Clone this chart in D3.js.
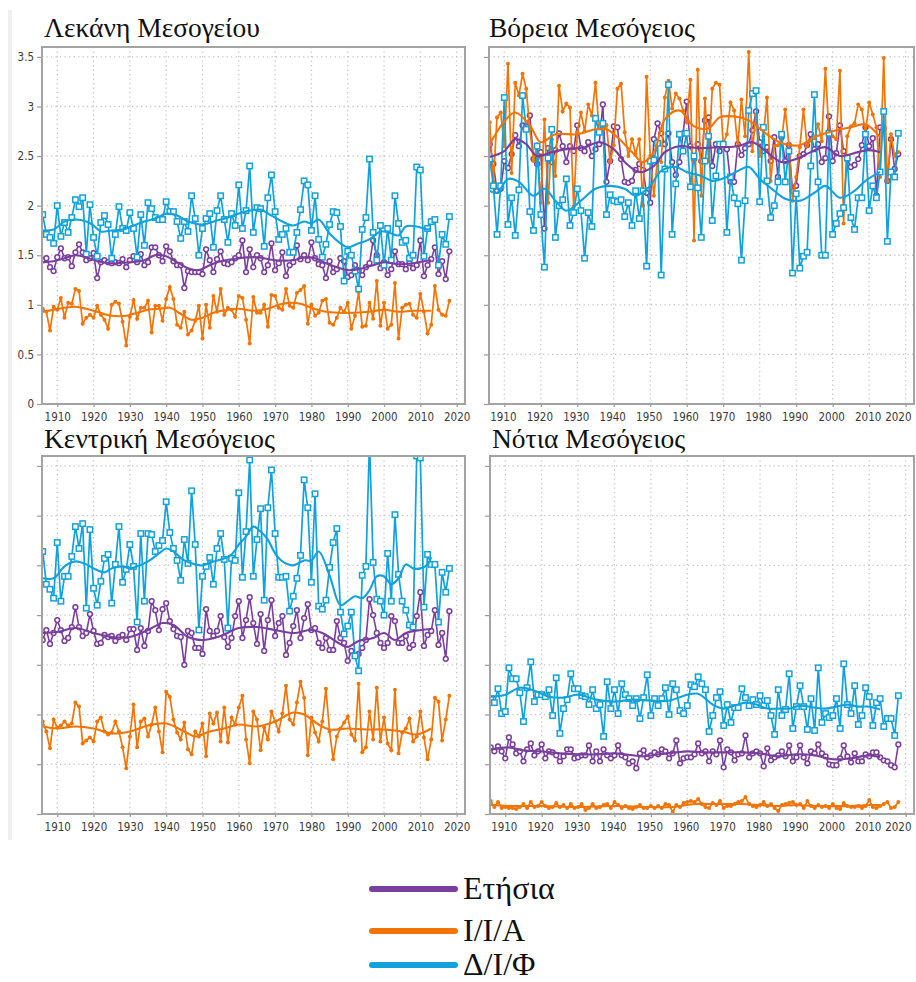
<!DOCTYPE html>
<html><head><meta charset="utf-8">
<script src="https://cdn.jsdelivr.net/npm/d3@7"></script>
<style>body{margin:0;background:#fff} svg{display:block}</style>
</head><body>
<svg id="chart" width="916" height="982"></svg>
<script>
const years = [1906,1907,1908,1909,1910,1911,1912,1913,1914,1915,
1916,1917,1918,1919,1920,1921,1922,1923,1924,1925,
1926,1927,1928,1929,1930,1931,1932,1933,1934,1935,
1936,1937,1938,1939,1940,1941,1942,1943,1944,1945,
1946,1947,1948,1949,1950,1951,1952,1953,1954,1955,
1956,1957,1958,1959,1960,1961,1962,1963,1964,1965,
1966,1967,1968,1969,1970,1971,1972,1973,1974,1975,
1976,1977,1978,1979,1980,1981,1982,1983,1984,1985,
1986,1987,1988,1989,1990,1991,1992,1993,1994,1995,
1996,1997,1998,1999,2000,2001,2002,2003,2004,2005,
2006,2007,2008,2009,2010,2011,2012,2013,2014,2015,
2016,2017,2018];
const seriesNames = ["Ετήσια","Ι/Ι/Α","Δ/Ι/Φ"];
const panelTitles = ["Λεκάνη Μεσογείου","Βόρεια Μεσόγειος","Κεντρική Μεσόγειος","Νότια Μεσόγειος"];
const yTicks = [0,0.5,1,1.5,2,2.5,3,3.5];
const yTickLabels = ["0","0.5","1","1.5","2","2.5","3","3.5"];
const xTicks = [1910,1920,1930,1940,1950,1960,1970,1980,1990,2000,2010,2020];

// ---- Panel 1: Λεκάνη Μεσογείου ----
const basinAnnual = [1.45,1.47,1.38,1.34,1.48,1.57,1.47,1.48,1.39,1.53,
1.61,1.53,1.45,1.47,1.52,1.27,1.43,1.45,1.43,1.42,
1.43,1.42,1.46,1.38,1.45,1.49,1.43,1.51,1.40,1.43,
1.58,1.58,1.50,1.44,1.59,1.54,1.44,1.40,1.40,1.17,
1.34,1.33,1.33,1.33,1.31,1.56,1.45,1.33,1.46,1.54,
1.42,1.41,1.43,1.47,1.50,1.65,1.33,1.56,1.38,1.50,
1.47,1.33,1.40,1.62,1.35,1.42,1.53,1.29,1.40,1.43,
1.60,1.46,1.50,1.45,1.63,1.47,1.41,1.40,1.27,1.44,
1.33,1.36,1.47,1.44,1.28,1.30,1.40,1.35,1.30,1.38,
1.42,1.65,1.50,1.37,1.43,1.30,1.36,1.54,1.41,1.41,
1.36,1.42,1.37,1.40,1.65,1.29,1.40,1.46,1.58,1.31,
1.44,1.26,1.54];
const basinIIA = [0.96,0.93,0.74,0.98,0.95,1.07,0.87,1.02,1.01,1.16,
1.14,0.81,0.87,0.90,0.87,0.99,0.90,0.85,0.76,1.00,
1.03,1.01,0.83,0.59,0.88,1.05,0.86,0.97,0.97,1.04,
0.72,0.99,0.99,0.84,1.06,1.18,1.06,0.80,0.77,0.93,
0.70,0.74,0.84,0.99,0.66,1.00,0.77,1.09,0.93,1.16,
0.90,0.97,0.95,0.88,1.09,1.07,0.85,0.61,1.08,0.92,
0.92,1.00,0.78,1.10,1.09,0.97,0.95,1.16,0.99,0.97,
1.12,1.15,1.19,0.81,1.00,0.89,0.92,1.04,1.06,0.82,
0.80,0.87,0.97,0.93,1.02,0.76,0.89,1.13,0.78,0.79,
1.02,0.86,1.24,0.79,1.02,0.76,0.80,1.22,0.66,0.97,
1.00,1.01,0.90,0.87,1.11,0.93,0.71,0.80,1.19,0.95,
0.90,0.89,1.04];
const basinDIF = [1.91,1.71,1.68,1.62,2.00,1.69,1.83,1.73,1.88,2.06,
1.99,2.08,1.51,2.01,1.68,1.49,1.83,1.90,1.81,1.47,
1.71,1.99,1.77,1.75,1.93,1.77,1.48,1.91,1.60,2.03,
1.97,1.88,1.86,1.86,2.04,1.94,1.94,1.84,1.67,1.84,
1.74,2.10,1.87,1.50,1.77,1.87,1.92,1.58,1.95,2.10,
1.86,1.63,1.92,1.80,2.21,1.77,1.95,2.40,1.73,1.98,
1.97,1.59,2.08,2.31,1.94,1.66,1.71,1.77,1.53,1.53,
1.73,1.96,2.25,2.21,1.75,2.10,1.66,1.48,1.61,1.81,
1.94,1.93,1.79,1.24,1.54,1.50,1.34,1.16,1.76,1.88,
2.47,1.73,1.45,1.80,1.40,1.77,1.45,2.10,1.82,1.63,
1.65,1.47,1.50,2.39,2.36,1.49,1.77,1.84,1.86,1.40,
1.71,1.61,1.89];
const basinAnnualSmooth = [[1906,1.43],[1909,1.44],[1912,1.47],[1915,1.50],[1918,1.48],[1921,1.44],[1925,1.42],[1930,1.43],[1934,1.45],[1937,1.50],[1940,1.49],[1943,1.43],[1946,1.37],[1949,1.35],[1952,1.40],[1955,1.44],[1960,1.47],[1965,1.48],[1970,1.45],[1975,1.45],[1978,1.48],[1981,1.47],[1984,1.42],[1987,1.38],[1990,1.35],[1993,1.36],[1997,1.40],[2000,1.43],[2004,1.41],[2008,1.42],[2011,1.44],[2013,1.45]];
const basinIIASmooth = [[1906,0.93],[1909,0.95],[1912,0.97],[1915,0.98],[1918,0.96],[1921,0.93],[1925,0.89],[1929,0.89],[1932,0.92],[1935,0.95],[1938,0.96],[1941,0.97],[1944,0.91],[1947,0.85],[1950,0.87],[1953,0.92],[1957,0.95],[1960,0.96],[1964,0.94],[1968,0.96],[1971,1.00],[1974,1.02],[1977,1.01],[1980,0.97],[1984,0.93],[1988,0.92],[1992,0.92],[1996,0.93],[2000,0.95],[2004,0.93],[2008,0.94],[2011,0.94],[2013,0.94]];
const basinDIFSmooth = [[1906,1.75],[1909,1.76],[1912,1.84],[1915,1.86],[1918,1.84],[1920,1.80],[1922,1.74],[1925,1.75],[1928,1.76],[1931,1.80],[1934,1.84],[1937,1.87],[1940,1.92],[1943,1.90],[1946,1.84],[1950,1.81],[1954,1.85],[1957,1.88],[1960,1.92],[1963,1.95],[1966,1.96],[1969,1.90],[1972,1.84],[1975,1.80],[1978,1.84],[1980,1.82],[1982,1.86],[1985,1.72],[1988,1.62],[1990,1.58],[1993,1.62],[1996,1.66],[1999,1.74],[2002,1.72],[2004,1.70],[2006,1.79],[2009,1.79],[2012,1.76],[2013,1.77]];

// ---- Panel 2: Βόρεια Μεσόγειος ----
const northAnnual = [2.62,2.42,2.15,2.17,2.45,2.38,2.52,2.71,2.60,2.81,
2.80,2.91,2.47,2.42,2.54,1.77,2.58,2.44,2.56,2.73,
2.60,2.44,2.60,2.55,2.81,2.58,2.55,2.64,2.50,2.57,
2.62,3.02,2.24,2.45,2.80,2.79,2.47,2.24,2.23,2.25,
2.36,2.42,2.36,2.13,2.03,2.67,2.83,2.73,2.62,2.73,
2.44,2.31,2.44,2.73,3.05,2.60,2.47,2.62,2.45,2.86,
2.89,2.40,2.62,2.55,2.62,2.57,2.24,2.24,2.62,2.51,
2.58,2.62,2.76,2.95,2.64,2.55,2.59,2.45,2.69,2.29,
2.69,2.45,2.61,2.15,2.20,2.50,2.52,2.61,2.72,2.57,
2.62,2.44,2.48,2.90,2.45,2.53,2.81,2.55,2.47,2.39,
2.41,2.47,2.61,2.79,2.60,2.68,2.10,2.79,2.78,2.25,
2.67,2.37,2.52];
const northIIA = [2.84,2.24,2.89,2.94,2.60,3.43,2.33,3.24,3.11,3.33,
3.18,2.77,2.45,2.62,2.03,2.87,2.03,2.67,2.30,3.21,
2.95,3.03,2.99,1.99,2.74,2.94,2.75,3.02,2.91,3.24,
2.76,2.76,2.81,2.44,2.61,3.18,3.23,2.74,2.50,2.67,
2.52,2.67,2.00,3.30,2.50,2.10,2.47,2.44,3.09,3.26,
2.98,3.13,3.08,2.96,2.84,3.27,1.65,3.37,2.10,3.08,
2.45,3.18,3.24,3.22,2.62,2.72,3.04,2.96,2.60,3.07,
2.70,3.55,2.55,2.92,2.50,2.70,3.09,2.25,2.60,2.61,
2.66,2.97,2.62,2.05,2.29,2.59,2.97,2.60,2.66,2.68,
2.82,2.65,3.38,2.73,2.70,2.67,3.36,1.82,2.70,2.80,
2.83,3.02,2.97,2.73,3.04,2.92,2.79,2.29,3.49,2.24,
2.72,2.50,2.54];
const northDIF = [2.47,2.20,1.71,2.20,3.09,1.81,2.08,1.70,2.16,3.11,
2.77,1.94,1.75,2.60,1.91,1.38,2.48,2.77,1.68,2.00,
2.06,2.27,1.80,1.93,2.17,1.95,1.47,1.93,1.79,2.88,
2.74,2.83,1.91,2.11,2.05,2.04,2.06,1.89,2.03,1.80,
2.15,1.87,2.15,1.39,2.45,2.46,2.63,1.30,2.37,3.22,
1.71,2.22,2.72,2.55,2.73,2.19,2.50,2.18,1.68,2.45,
2.70,1.85,2.30,2.62,2.62,1.73,2.29,2.08,2.02,1.45,
2.05,2.96,3.13,3.16,2.04,2.79,2.25,1.88,2.00,2.24,
2.72,2.24,2.55,1.32,2.12,1.37,1.49,1.53,2.40,3.12,
2.24,1.50,1.50,2.73,1.71,1.82,1.92,1.98,2.48,1.88,
1.76,2.08,2.08,2.72,1.95,2.20,2.08,2.34,2.95,1.64,
2.34,2.29,2.73];
const northAnnualSmooth = [[1906,2.49],[1910,2.55],[1913,2.67],[1916,2.62],[1919,2.50],[1923,2.54],[1927,2.57],[1932,2.59],[1936,2.64],[1940,2.57],[1943,2.44],[1947,2.34],[1951,2.40],[1954,2.54],[1958,2.60],[1963,2.58],[1969,2.59],[1974,2.60],[1978,2.64],[1982,2.54],[1986,2.44],[1990,2.47],[1994,2.54],[1998,2.59],[2002,2.50],[2007,2.54],[2010,2.56],[2013,2.54]];
const northIIASmooth = [[1906,2.62],[1910,2.85],[1913,2.94],[1917,2.81],[1920,2.64],[1924,2.72],[1930,2.72],[1935,2.77],[1938,2.77],[1941,2.69],[1945,2.54],[1948,2.44],[1951,2.54],[1954,2.87],[1958,2.96],[1962,2.80],[1966,2.78],[1969,2.89],[1973,2.90],[1977,2.86],[1982,2.72],[1986,2.63],[1991,2.61],[1995,2.69],[2000,2.75],[2005,2.79],[2009,2.82],[2013,2.69]];
const northDIFSmooth = [[1906,2.15],[1908,2.13],[1911,2.27],[1914,2.24],[1918,2.10],[1921,2.17],[1924,2.05],[1927,1.95],[1931,2.05],[1935,2.17],[1939,2.20],[1943,2.17],[1946,2.10],[1950,2.20],[1953,2.35],[1957,2.39],[1960,2.34],[1964,2.30],[1967,2.25],[1971,2.29],[1974,2.35],[1977,2.39],[1980,2.27],[1984,2.15],[1987,2.07],[1991,2.05],[1995,2.13],[1998,2.20],[2002,2.08],[2006,2.15],[2009,2.25],[2013,2.34]];

// ---- Panel 3: Κεντρική Μεσόγειος ----
const centralAnnual = [1.75,1.85,1.71,1.82,1.95,1.85,1.74,1.77,1.88,2.08,
1.88,1.79,1.82,2.01,1.84,1.71,1.72,1.80,1.78,1.79,
1.74,1.78,1.80,1.75,1.86,1.86,1.65,1.87,1.69,1.84,
2.14,2.05,1.85,2.06,2.12,1.94,1.86,1.79,1.78,1.50,
1.84,1.82,1.67,1.67,1.61,2.06,1.84,1.79,1.84,1.99,
1.78,1.68,1.77,1.99,2.14,1.77,1.95,2.18,1.92,1.71,
2.01,1.64,1.95,2.15,1.79,1.92,1.99,1.60,1.72,1.89,
2.05,1.77,1.97,2.11,1.85,1.87,1.72,1.67,1.77,1.65,
1.65,1.94,1.77,1.72,1.54,1.64,1.59,1.61,1.67,1.75,
2.16,2.00,1.82,1.72,1.67,1.72,1.99,1.94,1.72,1.72,
1.79,1.67,1.70,1.99,2.23,1.69,1.80,1.84,2.05,1.70,
1.82,1.56,2.04];
const centralIIA = [0.93,0.83,0.66,0.95,0.87,0.89,0.93,0.89,0.91,1.12,
1.08,0.71,0.74,0.77,0.73,0.93,0.97,0.83,0.80,0.82,
0.93,0.83,0.67,0.46,0.78,1.10,0.67,0.93,0.96,0.78,
0.90,1.07,0.83,0.62,1.23,1.18,0.95,0.82,0.75,0.92,
0.65,0.60,0.83,0.78,0.91,0.58,1.01,0.91,1.02,0.73,
1.07,0.72,0.97,0.90,1.07,1.19,0.75,0.51,1.03,0.95,
0.64,0.87,0.75,1.03,0.93,0.83,1.01,1.29,0.95,0.90,
1.12,1.33,1.17,0.59,0.97,0.82,0.73,0.93,1.26,0.83,
0.55,0.78,0.86,0.92,0.98,0.80,0.74,1.31,0.62,0.67,
1.03,0.75,1.27,0.73,0.97,0.71,0.64,1.25,0.61,0.82,
0.86,0.96,0.73,0.78,1.03,0.77,0.55,0.75,1.17,1.13,
0.74,0.95,1.19];
const centralDIF = [2.64,2.31,2.26,2.17,2.73,2.14,2.39,2.39,2.59,2.89,
2.67,2.92,2.07,2.86,2.27,2.10,2.34,2.57,2.61,2.12,
2.51,2.89,2.33,2.46,2.71,2.49,1.93,2.82,2.14,2.82,
2.81,2.64,2.70,2.75,3.14,2.83,2.67,2.55,2.35,2.76,
2.52,3.25,2.71,1.85,2.39,2.49,2.58,2.31,2.67,2.82,
2.56,1.87,2.57,2.55,3.23,2.38,2.84,3.56,2.39,2.76,
3.07,2.15,3.08,3.46,2.82,2.38,2.38,2.39,2.04,2.19,
2.37,2.60,3.36,3.08,2.33,3.22,2.09,2.06,2.15,2.48,
2.73,2.87,2.03,1.81,1.89,2.03,1.59,1.44,2.40,2.49,
3.75,2.53,2.16,2.14,2.00,2.62,2.14,3.01,2.41,2.14,
2.05,1.90,1.88,3.60,3.58,2.08,2.61,2.51,2.51,1.93,
2.43,2.23,2.47];
const centralAnnualSmooth = [[1906,1.82],[1910,1.83],[1915,1.87],[1920,1.82],[1925,1.78],[1930,1.78],[1935,1.85],[1939,1.92],[1942,1.90],[1946,1.78],[1950,1.75],[1955,1.79],[1960,1.87],[1965,1.88],[1970,1.85],[1975,1.82],[1980,1.85],[1983,1.82],[1987,1.73],[1990,1.68],[1993,1.74],[1997,1.77],[2000,1.82],[2003,1.75],[2006,1.82],[2010,1.85],[2013,1.86]];
const centralIIASmooth = [[1906,0.88],[1910,0.86],[1915,0.88],[1920,0.86],[1925,0.81],[1930,0.83],[1935,0.89],[1940,0.91],[1945,0.83],[1948,0.78],[1952,0.83],[1956,0.86],[1960,0.90],[1965,0.88],[1970,0.93],[1975,1.02],[1978,1.00],[1982,0.90],[1985,0.85],[1990,0.86],[1995,0.85],[2000,0.85],[2005,0.83],[2009,0.80],[2013,0.86]];
const centralDIFSmooth = [[1906,2.37],[1909,2.37],[1912,2.49],[1915,2.54],[1918,2.51],[1920,2.47],[1923,2.43],[1925,2.47],[1928,2.49],[1930,2.47],[1932,2.49],[1935,2.54],[1938,2.62],[1940,2.67],[1942,2.64],[1945,2.55],[1948,2.51],[1950,2.50],[1953,2.54],[1956,2.57],[1958,2.61],[1960,2.71],[1962,2.79],[1964,2.89],[1966,2.84],[1968,2.76],[1970,2.62],[1972,2.54],[1975,2.50],[1978,2.55],[1980,2.55],[1982,2.64],[1985,2.40],[1988,2.10],[1990,2.14],[1992,2.19],[1994,2.17],[1996,2.25],[1998,2.39],[2000,2.39],[2002,2.31],[2004,2.37],[2006,2.51],[2008,2.47],[2010,2.47],[2012,2.51],[2013,2.58]];

// ---- Panel 4: Νότια Μεσόγειος ----
const southAnnual = [0.67,0.63,0.68,0.63,0.56,0.77,0.70,0.61,0.63,0.53,
0.65,0.71,0.59,0.63,0.70,0.56,0.63,0.62,0.59,0.53,
0.58,0.65,0.65,0.56,0.57,0.59,0.59,0.69,0.53,0.63,
0.53,0.65,0.59,0.56,0.59,0.69,0.59,0.57,0.51,0.53,
0.46,0.61,0.64,0.57,0.59,0.62,0.60,0.65,0.63,0.56,
0.61,0.74,0.51,0.56,0.57,0.57,0.60,0.71,0.61,0.63,
0.53,0.63,0.60,0.74,0.47,0.65,0.62,0.54,0.60,0.61,
0.79,0.57,0.61,0.63,0.61,0.48,0.66,0.54,0.57,0.59,
0.63,0.58,0.69,0.53,0.57,0.69,0.57,0.51,0.63,0.61,
0.70,0.61,0.58,0.50,0.49,0.49,0.56,0.69,0.58,0.52,
0.61,0.53,0.53,0.60,0.58,0.62,0.62,0.57,0.54,0.53,
0.49,0.47,0.70];
const southIIA = [0.13,0.07,0.12,0.06,0.07,0.06,0.06,0.05,0.07,0.10,
0.06,0.12,0.07,0.08,0.12,0.08,0.06,0.07,0.11,0.07,
0.09,0.06,0.10,0.06,0.07,0.10,0.04,0.06,0.10,0.06,
0.07,0.09,0.10,0.06,0.12,0.09,0.06,0.08,0.06,0.05,
0.07,0.09,0.06,0.06,0.08,0.06,0.08,0.06,0.10,0.09,
0.02,0.09,0.07,0.11,0.12,0.13,0.12,0.15,0.10,0.07,
0.06,0.11,0.09,0.13,0.06,0.08,0.08,0.10,0.12,0.13,
0.17,0.10,0.08,0.07,0.09,0.12,0.08,0.10,0.06,0.03,
0.09,0.10,0.11,0.12,0.09,0.10,0.06,0.13,0.08,0.06,
0.09,0.07,0.08,0.06,0.10,0.06,0.05,0.11,0.08,0.07,
0.07,0.08,0.06,0.08,0.14,0.07,0.06,0.08,0.10,0.12,
0.06,0.07,0.12];
const southDIF = [1.16,1.12,1.26,1.01,1.03,1.47,1.36,1.36,1.22,0.93,
1.27,1.53,1.13,1.20,1.20,1.18,1.25,0.99,1.37,0.81,
1.06,1.15,1.41,1.26,1.26,1.19,1.18,1.10,1.25,1.06,
1.10,0.78,1.33,1.06,1.25,1.01,1.31,1.20,1.16,1.09,
1.16,0.96,1.17,1.40,0.99,1.16,1.09,1.16,1.27,1.00,
1.31,1.25,1.04,1.01,1.09,1.30,1.28,1.38,1.31,1.25,
0.83,0.99,1.17,1.23,0.89,1.10,0.92,1.07,1.07,1.26,
1.17,1.09,1.15,1.10,1.19,1.09,1.14,0.99,0.80,1.25,
0.99,1.05,1.41,0.86,1.08,1.29,1.08,0.85,1.16,0.84,
1.47,0.92,1.01,0.97,0.99,1.16,0.86,1.51,1.10,1.01,
1.29,0.90,0.99,1.27,1.18,0.89,1.12,1.16,0.88,0.96,
0.96,0.79,1.19];
const southAnnualSmooth = [[1906,0.65],[1911,0.67],[1915,0.64],[1920,0.63],[1925,0.61],[1930,0.60],[1935,0.60],[1940,0.61],[1945,0.59],[1948,0.58],[1952,0.60],[1957,0.62],[1960,0.63],[1965,0.62],[1970,0.62],[1975,0.62],[1980,0.61],[1985,0.58],[1990,0.60],[1995,0.59],[2000,0.55],[2005,0.56],[2010,0.59],[2013,0.57]];
const southIIASmooth = [[1906,0.09],[1912,0.08],[1920,0.08],[1930,0.07],[1940,0.08],[1950,0.07],[1956,0.07],[1962,0.10],[1968,0.10],[1975,0.10],[1980,0.09],[1985,0.08],[1990,0.09],[1995,0.08],[2000,0.08],[2005,0.08],[2010,0.09],[2013,0.09]];
const southDIFSmooth = [[1906,1.18],[1910,1.20],[1914,1.27],[1918,1.24],[1922,1.18],[1926,1.17],[1930,1.20],[1935,1.15],[1940,1.13],[1945,1.15],[1950,1.14],[1955,1.14],[1960,1.20],[1963,1.21],[1965,1.16],[1967,1.10],[1970,1.06],[1973,1.09],[1976,1.12],[1979,1.10],[1982,1.06],[1985,1.06],[1988,1.06],[1991,1.09],[1995,1.07],[1998,1.06],[2001,1.08],[2004,1.10],[2007,1.08],[2010,1.08],[2013,1.05]];

// ---- drawing ----
const COL = {annual:"#7A3E9D", iia:"#F27405", dif:"#12A2DB"};
const panels = [
  {title:panelTitles[0], annual:basinAnnual, iia:basinIIA, dif:basinDIF, sA:basinAnnualSmooth, sI:basinIIASmooth, sD:basinDIFSmooth},
  {title:panelTitles[1], annual:northAnnual, iia:northIIA, dif:northDIF, sA:northAnnualSmooth, sI:northIIASmooth, sD:northDIFSmooth},
  {title:panelTitles[2], annual:centralAnnual, iia:centralIIA, dif:centralDIF, sA:centralAnnualSmooth, sI:centralIIASmooth, sD:centralDIFSmooth},
  {title:panelTitles[3], annual:southAnnual, iia:southIIA, dif:southDIF, sA:southAnnualSmooth, sI:southIIASmooth, sD:southDIFSmooth}
];
const boxes = [
  {left:42, top:47, w:423, h:357, ty:37, tx:44, labels:true},
  {left:489, top:47, w:425, h:357, ty:37, tx:489},
  {left:42, top:456, w:423, h:358, ty:448, tx:44},
  {left:490, top:456, w:424, h:358, ty:448, tx:492}
];
const svg = d3.select("#chart");
svg.append("rect").attr("x",8).attr("y",10).attr("width",4).attr("height",830).attr("fill","#efefef");

const tickFont = "'DejaVu Sans Condensed','DejaVu Sans',sans-serif";

panels.forEach((p, i) => {
  const b = boxes[i];
  const x = d3.scaleLinear().domain([1905.8, 2022.3]).range([b.left, b.left + b.w]);
  const y = d3.scaleLinear().domain([0, 3.6]).range([b.top + b.h, b.top]);
  const g = svg.append("g");

  // grid
  g.selectAll(".hg").data(yTicks.filter(t => t > 0)).join("line")
    .attr("x1", b.left).attr("x2", b.left + b.w)
    .attr("y1", d => y(d)).attr("y2", d => y(d))
    .attr("stroke", "#c4c4c4").attr("stroke-width", 1.3).attr("stroke-dasharray", "1.3,3.2");
  g.selectAll(".vg").data(xTicks).join("line")
    .attr("x1", d => x(d)).attr("x2", d => x(d))
    .attr("y1", b.top).attr("y2", b.top + b.h)
    .attr("stroke", "#c4c4c4").attr("stroke-width", 1.3).attr("stroke-dasharray", "1.3,3.2");

  // axes
  const yAxis = d3.axisLeft(y).tickValues(yTicks).tickSize(5)
    .tickFormat((d, k) => b.labels ? yTickLabels[k] : "");
  const ya = g.append("g").attr("transform", `translate(${b.left},0)`).call(yAxis);
  const xAxis = d3.axisBottom(x).tickValues(xTicks).tickSize(3).tickFormat(d3.format("d"));
  const xa = g.append("g").attr("transform", `translate(0,${b.top + b.h})`).call(xAxis);
  [ya, xa].forEach(a => {
    a.select(".domain").remove();
    a.selectAll(".tick line").attr("stroke", "#9a9a9a").attr("stroke-width", 1.2);
    a.selectAll(".tick text").attr("fill", "#3a3a3a").style("font-family", tickFont).style("font-size", "11.5px");
  });
  const rightPanel = (i % 2 === 1);
  xa.selectAll(".tick text").attr("dy", "0.95em")
    .attr("dx", d => rightPanel && d !== 2020 ? -1.5 : 0)
    .attr("text-anchor", d => rightPanel && d === 2020 ? "end" : "middle")
    .attr("x", d => rightPanel && d === 2020 ? 911 - x(d) : 0);
  ya.selectAll(".tick text").attr("x", -8);

  // clip
  const cid = "clip" + i;
  svg.append("defs").append("clipPath").attr("id", cid).append("rect")
    .attr("x", b.left).attr("y", b.top).attr("width", b.w).attr("height", b.h);
  const plot = g.append("g").attr("clip-path", `url(#${cid})`);

  const line = d3.line().x(d => x(d[0])).y(d => y(d[1]));
  const smooth = d3.line().x(d => x(d[0])).y(d => y(d[1])).curve(d3.curveCatmullRom.alpha(0.5));
  const zip = arr => years.map((yr, k) => [yr, arr[k]]);

  const A = zip(p.annual), I = zip(p.iia), D = zip(p.dif);
  // annual (purple circles)
  plot.append("path").datum(A).attr("d", line).attr("fill", "none").attr("stroke", COL.annual).attr("stroke-width", 1.6);
  plot.selectAll(".ma").data(A).join("circle").attr("cx", d => x(d[0])).attr("cy", d => y(d[1])).attr("r", 2.4)
    .attr("fill", "#fff").attr("stroke", COL.annual).attr("stroke-width", 1.5);
  // IIA (orange dots)
  plot.append("path").datum(I).attr("d", line).attr("fill", "none").attr("stroke", COL.iia).attr("stroke-width", 1.7);
  plot.selectAll(".mi").data(I).join("circle").attr("cx", d => x(d[0])).attr("cy", d => y(d[1])).attr("r", 2)
    .attr("fill", COL.iia);
  // DIF (blue squares)
  plot.append("path").datum(D).attr("d", line).attr("fill", "none").attr("stroke", COL.dif).attr("stroke-width", 1.7);
  plot.selectAll(".md").data(D).join("rect").attr("x", d => x(d[0]) - 2.7).attr("y", d => y(d[1]) - 2.7)
    .attr("width", 5.4).attr("height", 5.4)
    .attr("fill", "#fff").attr("stroke", COL.dif).attr("stroke-width", 1.5);
  // smooth curves
  plot.append("path").datum(p.sA).attr("d", smooth).attr("fill", "none").attr("stroke", COL.annual).attr("stroke-width", 2.1);
  plot.append("path").datum(p.sI).attr("d", smooth).attr("fill", "none").attr("stroke", COL.iia).attr("stroke-width", 2.1);
  plot.append("path").datum(p.sD).attr("d", smooth).attr("fill", "none").attr("stroke", COL.dif).attr("stroke-width", 2.1);

  // frame
  g.append("rect").attr("x", b.left).attr("y", b.top).attr("width", b.w).attr("height", b.h)
    .attr("fill", "none").attr("stroke", "#a3a3a3").attr("stroke-width", 2);

  // title
  svg.append("text").attr("x", b.tx).attr("y", b.ty).text(p.title)
    .style("font-family", "'Liberation Serif','Times New Roman',serif").style("font-size", "27.5px").attr("fill", "#111");
});

// legend
const legendColors = [COL.annual, COL.iia, COL.dif];
const legendY = [889, 931, 965];
const lg = svg.append("g");
seriesNames.forEach((name, k) => {
  lg.append("line").attr("x1", 372).attr("x2", 455).attr("y1", legendY[k]).attr("y2", legendY[k])
    .attr("stroke", legendColors[k]).attr("stroke-width", 6).attr("stroke-linecap", "round");
  lg.append("text").attr("x", 463).attr("y", legendY[k] + 10).text(name)
    .style("font-family", "'Liberation Serif','Times New Roman',serif").style("font-size", "32px").attr("fill", "#111");
});
</script>
</body></html>
